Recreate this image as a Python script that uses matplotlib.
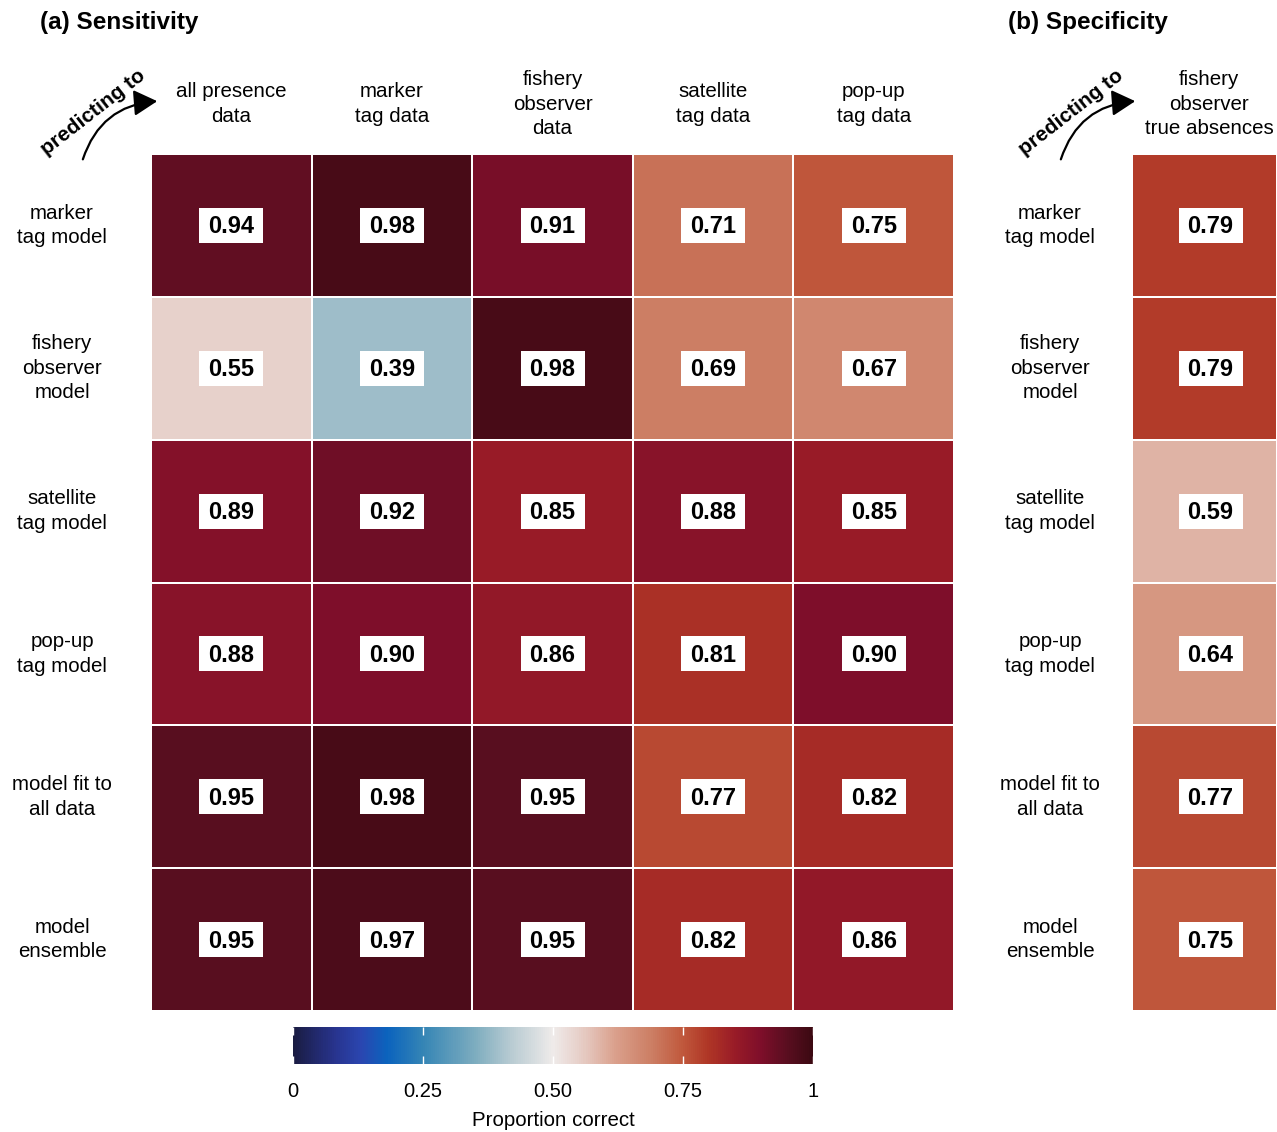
import matplotlib
matplotlib.use("Agg")
import matplotlib.pyplot as plt
import numpy as np
from matplotlib.colors import LinearSegmentedColormap
from matplotlib.patches import FancyArrowPatch, Rectangle

plt.rcParams['font.family'] = ['Liberation Sans', 'DejaVu Sans']

# ---- data ----
col_labels = ["all presence\ndata", "marker\ntag data", "fishery\nobserver\ndata",
              "satellite\ntag data", "pop-up\ntag data"]
row_labels = ["marker\ntag model", "fishery\nobserver\nmodel", "satellite\ntag model",
              "pop-up\ntag model", "model fit to\nall data", "model\nensemble"]
spec_col_label = "fishery\nobserver\ntrue absences"
sensitivity = [
    [0.94, 0.98, 0.91, 0.71, 0.75],
    [0.55, 0.39, 0.98, 0.69, 0.67],
    [0.89, 0.92, 0.85, 0.88, 0.85],
    [0.88, 0.90, 0.86, 0.81, 0.90],
    [0.95, 0.98, 0.95, 0.77, 0.82],
    [0.95, 0.97, 0.95, 0.82, 0.86],
]
specificity = [0.79, 0.79, 0.59, 0.64, 0.77, 0.75]
cbar_ticks = [0, 0.25, 0.5, 0.75, 1]
cbar_ticklabels = ["0", "0.25", "0.50", "0.75", "1"]

# ---- colormap (balance-like) ----
stops = [
    (0.00, "#1a1c42"), (0.08, "#28348f"), (0.13, "#2a46b0"), (0.18, "#0b63bd"),
    (0.25, "#3585b5"), (0.35, "#7eadbf"), (0.42, "#b8cbd2"), (0.50, "#efebea"),
    (0.55, "#e7d0ca"), (0.62, "#daa08c"), (0.69, "#cc7e64"), (0.75, "#c0583c"),
    (0.80, "#af3626"), (0.85, "#991b27"), (0.90, "#7f0e2a"), (0.95, "#5a0e20"),
    (1.00, "#3c0912"),
]
cmap = LinearSegmentedColormap.from_list("balance_like", stops)

W, H = 1277, 1132
fig = plt.figure(figsize=(W / 100, H / 100), dpi=100)

def fx(x):
    return x / W

def fy(y):
    return 1 - y / H

def add_ax(x0, y0, x1, y1):
    return fig.add_axes([fx(x0), fy(y1), fx(x1 - x0), (y1 - y0) / H])

FS = 14.8
LS = 1.38
VFS = 17

def draw_heat(ax, data, px_w, px_h, box_dx=0):
    data = np.asarray(data)
    nr, nc = data.shape
    ax.pcolormesh(np.arange(nc + 1), np.arange(nr + 1), data, cmap=cmap, vmin=0, vmax=1,
                  edgecolors="white", linewidth=1.2)
    ax.set_xlim(0, nc)
    ax.set_ylim(nr, 0)
    ax.axis("off")
    cw = px_w / nc
    ch = px_h / nr
    bw, bh = 64 / cw, 35 / ch
    dx = box_dx / cw
    for i in range(nr):
        for j in range(nc):
            cx, cy = j + 0.5 + dx, i + 0.5
            ax.add_patch(Rectangle((cx - bw / 2, cy - bh / 2), bw, bh, fc="white",
                                   ec="none", zorder=3))
            ax.text(cx, cy + 0.01, f"{data[i, j]:.2f}", ha="center", va="center",
                    fontsize=VFS, fontweight="bold", color="black", zorder=4)

# left panel
L0, L1, T0, T1 = 151, 954, 154, 1011
axL = add_ax(L0, T0, L1, T1)
draw_heat(axL, sensitivity, L1 - L0, T1 - T0)

# right panel
R0, R1 = 1132, 1277
axR = add_ax(R0, T0, R1, T1)
draw_heat(axR, np.array(specificity)[:, None], R1 - R0, T1 - T0, box_dx=6)

nrow = len(row_labels)
rh = (T1 - T0) / nrow
cw = (L1 - L0) / len(col_labels)

for j, lab in enumerate(col_labels):
    fig.text(fx(L0 + cw * (j + 0.5)), fy(104), lab, ha="center", va="center",
             fontsize=FS, linespacing=LS)
fig.text(fx(1209), fy(104), spec_col_label, ha="center", va="center",
         fontsize=FS, linespacing=LS)

for i, lab in enumerate(row_labels):
    yc = T0 + rh * (i + 0.5)
    fig.text(fx(62), fy(yc), lab, ha="center", va="center", fontsize=FS, linespacing=LS)
    fig.text(fx(1050), fy(yc), lab, ha="center", va="center", fontsize=FS, linespacing=LS)

# titles
fig.text(fx(40), fy(23), "(a) Sensitivity", ha="left", va="center", fontsize=17.5,
         fontweight="bold")
fig.text(fx(1008), fy(23), "(b) Specificity", ha="left", va="center", fontsize=17.5,
         fontweight="bold")

# "predicting to" annotations with curved arrows
for ox in (0, 978):
    fig.text(fx(93 + ox), fy(112), "predicting to", ha="center", va="center",
             fontsize=15, fontweight="bold", rotation=38, rotation_mode="anchor")
    arr = FancyArrowPatch((fx(82 + ox), fy(162)), (fx(160 + ox), fy(101)),
                          transform=fig.transFigure, connectionstyle="arc3,rad=-0.35",
                          arrowstyle="-|>,head_length=9,head_width=5",
                          mutation_scale=1.6, lw=1.6, color="black")
    fig.add_artist(arr)

# colorbar
cax = add_ax(293, 1027, 813, 1064)
sm = plt.cm.ScalarMappable(cmap=cmap, norm=plt.Normalize(0, 1))
cb = fig.colorbar(sm, cax=cax, orientation="horizontal", ticks=cbar_ticks)
cb.outline.set_visible(False)
cb.ax.set_xticklabels(cbar_ticklabels, fontsize=14.5)
cb.ax.tick_params(axis="x", direction="in", length=6, width=1, color="white", pad=13,
                  top=True, bottom=True)
fig.text(fx(553), fy(1121), "Proportion correct", ha="center", va="center", fontsize=14.8)

fig.savefig("out.png", dpi=100)
